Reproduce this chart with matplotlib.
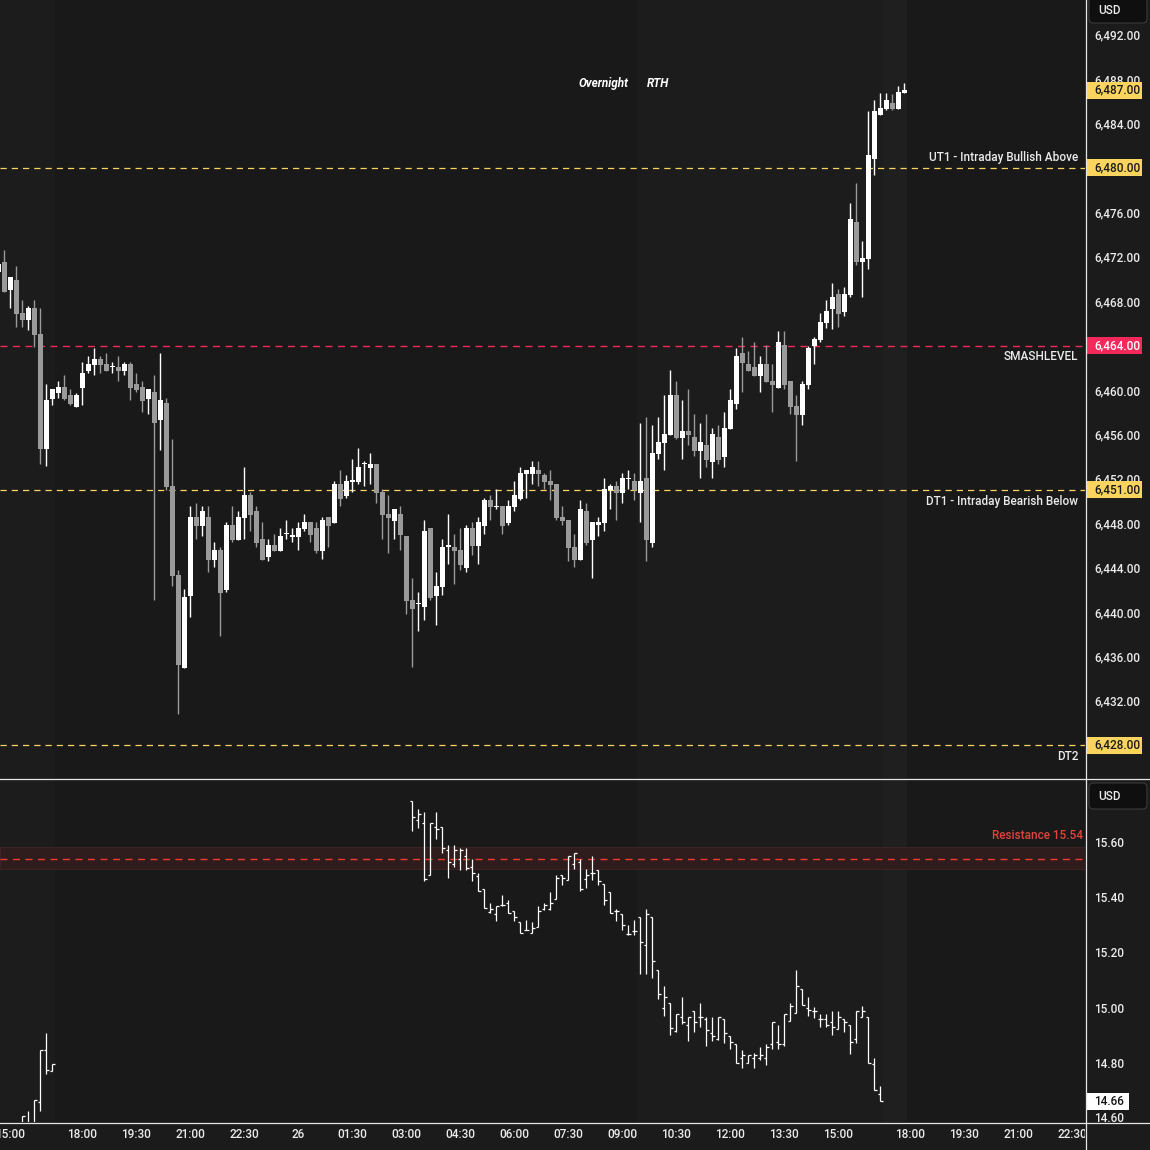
import numpy as np
import matplotlib
matplotlib.use('Agg')
import matplotlib.pyplot as plt
import matplotlib.transforms as mtransforms
from matplotlib.patches import Rectangle, FancyBboxPatch
from matplotlib.lines import Line2D
from matplotlib.ticker import FixedLocator, FuncFormatter

plt.rcParams['font.family'] = ['Roboto', 'Liberation Sans', 'DejaVu Sans']
plt.rcParams['font.weight'] = 'medium'

# 10-minute bars, bar index 0 = 18:00 (Globex open)
es_first_bar = -14
es_open = [6470.6, 6471.55, 6469.0, 6469.87, 6466.89, 6466.28, 6467.34, 6465.08, 6454.70, 6459.22,
           6459.76, 6460.30, 6459.58, 6458.49, 6460.21, 6461.74, 6462.29, 6462.83, 6462.38, 6462.05,
           6462.10, 6461.74, 6462.38, 6460.57, 6460.30, 6459.22, 6459.85, 6457.26, 6458.86, 6451.36,
           6443.33, 6434.94, 6441.44, 6448.57, 6447.75, 6448.57, 6444.69, 6445.59, 6441.98, 6447.84,
           6446.49, 6448.48, 6450.55, 6449.11, 6446.58, 6444.96, 6446.04, 6445.50, 6447.00, 6446.80,
           6446.76, 6447.48, 6448.12, 6447.57, 6445.50, 6448.57, 6448.03, 6451.55, 6450.46, 6451.75,
           6451.73, 6453.30, 6452.99, 6453.35, 6450.82, 6448.84, 6448.23, 6448.84, 6446.85, 6441.08,
           6440.75, 6440.47, 6447.57, 6441.46, 6442.28, 6445.85, 6445.86, 6445.59, 6443.99, 6447.57,
           6445.98, 6447.78, 6450.10, 6449.45, 6449.56, 6448.05, 6449.50, 6450.22, 6452.47, 6452.47,
           6452.81, 6452.36, 6451.82, 6451.55, 6448.57, 6448.30, 6445.86, 6444.71, 6449.11, 6446.52,
           6447.80, 6448.03, 6451.00, 6451.36, 6450.73, 6451.95, 6451.82, 6450.73, 6452.09, 6446.22,
           6454.25, 6455.25, 6455.97, 6459.58, 6455.70, 6456.33, 6455.79, 6454.52, 6455.07, 6453.53,
           6455.79, 6453.98, 6456.51, 6458.77, 6463.37, 6462.38, 6462.10, 6461.29, 6462.38, 6460.84,
           6460.21, 6464.09, 6460.84, 6458.58, 6457.77, 6460.48, 6464.00, 6464.54, 6465.99, 6467.25,
           6468.60, 6466.98, 6468.51, 6475.10, 6471.49, 6471.76, 6480.79, 6484.76, 6485.30, 6485.84,
           6485.30, 6486.75]
es_high = [6471.3, 6472.6, 6470.16, 6471.13, 6468.06, 6467.6, 6468.06, 6467.34, 6460.57, 6460.12,
           6460.84, 6461.38, 6460.12, 6459.76, 6462.56, 6463.10, 6463.82, 6463.10, 6463.37, 6462.56,
           6463.10, 6462.56, 6462.56, 6461.56, 6460.84, 6460.12, 6461.38, 6463.37, 6459.31, 6455.61,
           6443.78, 6442.07, 6449.56, 6449.83, 6449.56, 6449.56, 6446.31, 6445.86, 6448.12, 6449.56,
           6449.11, 6453.08, 6450.82, 6449.56, 6448.12, 6446.58, 6447.03, 6447.57, 6448.30, 6447.57,
           6448.12, 6448.84, 6448.12, 6448.12, 6448.57, 6448.57, 6451.82, 6452.81, 6452.36, 6453.80,
           6454.79, 6453.62, 6454.34, 6453.35, 6451.09, 6450.55, 6449.29, 6449.56, 6446.85, 6443.06,
           6441.80, 6448.30, 6447.57, 6443.60, 6446.58, 6448.84, 6447.03, 6447.57, 6447.84, 6448.12,
           6448.57, 6450.28, 6450.55, 6451.09, 6449.56, 6450.10, 6451.82, 6453.08, 6452.81, 6453.62,
           6453.62, 6452.54, 6452.81, 6451.55, 6449.56, 6448.30, 6447.03, 6450.10, 6449.83, 6448.12,
           6448.57, 6452.09, 6451.55, 6451.82, 6452.54, 6452.81, 6452.54, 6457.05, 6457.59, 6456.87,
           6457.59, 6459.58, 6461.83, 6460.84, 6459.13, 6460.12, 6457.86, 6457.05, 6457.86, 6456.60,
           6456.87, 6458.04, 6460.12, 6463.82, 6464.81, 6463.55, 6464.36, 6463.10, 6464.09, 6462.38,
           6465.35, 6465.35, 6460.84, 6459.58, 6460.84, 6464.00, 6464.81, 6466.89, 6468.06, 6469.60,
           6469.05, 6469.23, 6476.82, 6478.62, 6473.39, 6485.12, 6486.11, 6486.74, 6486.74, 6486.65,
           6487.38, 6487.65]
es_low = [6470.6, 6468.8, 6467.34, 6465.65, 6465.65, 6465.38, 6463.85, 6453.35, 6453.11, 6458.61,
          6459.31, 6459.13, 6458.61, 6458.49, 6458.61, 6461.56, 6461.38, 6461.56, 6461.74, 6461.56,
          6460.84, 6461.38, 6459.13, 6459.85, 6458.04, 6457.86, 6441.08, 6454.61, 6451.00, 6442.34,
          6430.79, 6434.94, 6439.54, 6446.58, 6446.85, 6443.60, 6444.05, 6437.83, 6441.80, 6446.31,
          6446.49, 6446.58, 6447.30, 6445.86, 6444.69, 6444.60, 6445.50, 6445.50, 6446.58, 6446.31,
          6445.59, 6447.30, 6446.31, 6445.32, 6444.78, 6445.86, 6448.03, 6449.56, 6450.28, 6450.82,
          6451.55, 6451.36, 6451.55, 6449.83, 6446.60, 6445.35, 6446.60, 6445.62, 6439.84, 6435.06,
          6438.30, 6439.30, 6441.10, 6438.85, 6441.55, 6444.35, 6442.55, 6443.81, 6443.63, 6445.10,
          6444.35, 6447.06, 6448.33, 6449.30, 6447.06, 6447.87, 6449.14, 6450.13, 6450.31, 6451.57,
          6451.39, 6451.12, 6450.13, 6448.32, 6447.87, 6444.62, 6444.08, 6444.71, 6446.07, 6443.09,
          6446.82, 6447.30, 6449.29, 6448.30, 6449.83, 6451.09, 6450.10, 6448.12, 6444.60, 6445.86,
          6453.80, 6452.81, 6455.97, 6455.61, 6453.80, 6455.07, 6454.07, 6452.09, 6453.08, 6452.09,
          6453.35, 6453.08, 6456.51, 6458.31, 6459.85, 6461.74, 6461.29, 6459.85, 6460.75, 6458.04,
          6460.21, 6460.12, 6457.86, 6453.62, 6456.87, 6460.12, 6462.38, 6464.36, 6465.62, 6465.53,
          6465.71, 6466.62, 6468.33, 6471.22, 6468.33, 6470.86, 6479.34, 6484.76, 6485.20, 6485.20,
          6485.30, 6486.75]
es_close = [6471.3, 6468.8, 6470.16, 6466.8, 6466.28, 6467.34, 6464.99, 6454.70, 6459.13, 6460.12,
            6460.30, 6459.22, 6458.77, 6459.58, 6461.56, 6462.38, 6462.83, 6462.29, 6461.74, 6462.15,
            6461.74, 6462.38, 6460.21, 6460.03, 6459.04, 6460.12, 6456.99, 6459.13, 6451.30, 6443.24,
            6435.21, 6441.35, 6448.57, 6447.75, 6449.11, 6444.69, 6445.59, 6441.71, 6447.84, 6446.49,
            6448.57, 6450.55, 6448.75, 6446.22, 6444.69, 6446.04, 6445.50, 6446.85, 6447.10, 6446.90,
            6447.57, 6448.12, 6446.94, 6445.50, 6448.30, 6447.75, 6451.55, 6450.19, 6451.82, 6451.85,
            6453.08, 6453.40, 6453.35, 6450.73, 6448.75, 6448.50, 6449.29, 6446.97, 6441.01, 6440.29,
            6440.85, 6447.30, 6441.29, 6442.34, 6445.86, 6446.04, 6445.50, 6444.26, 6447.57, 6445.98,
            6448.12, 6450.10, 6449.50, 6449.55, 6447.78, 6449.56, 6450.55, 6452.54, 6452.81, 6453.08,
            6452.47, 6451.75, 6451.48, 6448.50, 6448.23, 6445.80, 6444.71, 6449.29, 6446.25, 6448.12,
            6448.12, 6451.09, 6451.36, 6450.73, 6452.09, 6452.05, 6451.00, 6451.82, 6446.49, 6454.34,
            6455.34, 6456.06, 6459.58, 6455.70, 6456.33, 6455.97, 6454.52, 6455.34, 6453.71, 6456.06,
            6453.71, 6456.60, 6459.13, 6463.10, 6462.47, 6461.74, 6461.29, 6462.38, 6460.75, 6460.48,
            6464.36, 6460.48, 6458.49, 6457.77, 6460.57, 6463.82, 6464.63, 6466.08, 6467.07, 6468.33,
            6466.80, 6468.60, 6475.37, 6471.49, 6471.85, 6481.15, 6485.12, 6485.39, 6486.11, 6485.30,
            6486.83, 6487.00]

# VIX bars (10-minute), two trading stretches
vix_a_first_bar = -10
vix_a_open = [14.55, 14.56, 14.57, 14.660, 14.847, 14.771]
vix_a_high = [14.608, 14.626, 14.666, 14.847, 14.909, 14.796]
vix_a_low = [14.50, 14.55, 14.56, 14.627, 14.758, 14.771]
vix_a_close = [14.608, 14.57, 14.666, 14.847, 14.775, 14.796]

vix_b_first_bar = 55
vix_b_open = [15.747, 15.678, 15.668, 15.482, 15.655, 15.655, 15.570, 15.519, 15.537, 15.548,
              15.511, 15.477, 15.429, 15.348, 15.338, 15.370, 15.378, 15.349, 15.309, 15.280,
              15.269, 15.291, 15.356, 15.356, 15.392, 15.479, 15.461, 15.519, 15.526, 15.465,
              15.487, 15.497, 15.447, 15.418, 15.349, 15.338, 15.266, 15.277, 15.327, 15.226,
              15.327, 15.135, 14.998, 15.016, 14.915, 14.965, 14.936, 14.987, 14.965, 14.958,
              14.907, 14.886, 14.958, 14.897, 14.868, 14.817, 14.799, 14.817, 14.817, 14.817,
              14.868, 14.875, 14.868, 14.951, 14.980, 15.067, 14.998, 14.987, 14.958, 14.958,
              14.947, 14.922, 14.958, 14.936, 14.886, 14.965, 14.965, 14.795, 14.687]
vix_b_high = [15.747, 15.719, 15.707, 15.668, 15.707, 15.655, 15.588, 15.588, 15.577, 15.577,
              15.540, 15.487, 15.429, 15.378, 15.367, 15.407, 15.389, 15.349, 15.309, 15.316,
              15.309, 15.367, 15.378, 15.418, 15.479, 15.479, 15.548, 15.559, 15.537, 15.501,
              15.548, 15.497, 15.447, 15.418, 15.356, 15.338, 15.298, 15.316, 15.327, 15.356,
              15.327, 15.135, 15.078, 15.016, 14.976, 15.038, 14.965, 14.987, 15.016, 14.965,
              14.965, 14.965, 14.958, 14.897, 14.868, 14.846, 14.828, 14.835, 14.857, 14.868,
              14.947, 14.936, 14.976, 15.016, 15.135, 15.067, 15.038, 15.001, 14.976, 14.976,
              14.987, 14.987, 14.958, 14.936, 14.987, 15.005, 14.965, 14.817, 14.716]
vix_b_low = [15.641, 15.652, 15.460, 15.482, 15.611, 15.561, 15.471, 15.511, 15.500, 15.500,
             15.460, 15.421, 15.360, 15.342, 15.313, 15.369, 15.342, 15.313, 15.269, 15.280,
             15.269, 15.291, 15.353, 15.353, 15.392, 15.443, 15.461, 15.501, 15.421, 15.432,
             15.461, 15.443, 15.371, 15.342, 15.313, 15.280, 15.262, 15.262, 15.121, 15.121,
             15.106, 15.030, 14.969, 14.900, 14.911, 14.940, 14.878, 14.911, 14.929, 14.860,
             14.878, 14.882, 14.871, 14.849, 14.799, 14.781, 14.799, 14.781, 14.810, 14.792,
             14.849, 14.849, 14.860, 14.951, 14.980, 15.009, 14.969, 14.962, 14.929, 14.929,
             14.900, 14.922, 14.911, 14.831, 14.871, 14.965, 14.799, 14.701, 14.661]
vix_b_close = [15.689, 15.701, 15.467, 15.668, 15.648, 15.577, 15.526, 15.570, 15.570, 15.505,
               15.487, 15.421, 15.360, 15.356, 15.367, 15.370, 15.342, 15.327, 15.269, 15.280,
               15.287, 15.349, 15.371, 15.378, 15.471, 15.471, 15.548, 15.559, 15.429, 15.479,
               15.487, 15.458, 15.389, 15.342, 15.349, 15.298, 15.266, 15.277, 15.237, 15.338,
               15.168, 15.049, 15.038, 14.925, 14.976, 14.947, 14.965, 14.947, 14.965, 14.918,
               14.897, 14.965, 14.907, 14.875, 14.799, 14.828, 14.828, 14.828, 14.828, 14.857,
               14.947, 14.868, 14.976, 15.005, 15.078, 15.009, 14.992, 14.987, 14.958, 14.936,
               14.929, 14.965, 14.947, 14.875, 14.987, 14.987, 14.799, 14.701, 14.661]

level_prices = [6480.0, 6464.0, 6451.0, 6428.0]
level_names = ['UT1 - Intraday Bullish Above', 'SMASHLEVEL', 'DT1 - Intraday Bearish Below', 'DT2']
level_kinds = ['yellow', 'red', 'yellow', 'yellow']
last_es = 6487.00
resistance = 15.54
resistance_zone = (15.502, 15.583)
last_vix = 14.66

es_ticks = [6432, 6436, 6440, 6444, 6448, 6452, 6456, 6460, 6468, 6472, 6476, 6484, 6488, 6492]
vix_ticks = [15.60, 15.40, 15.20, 15.00, 14.80]

time_ticks = [-12, 0, 9, 18, 27, 36, 45, 54, 63, 72, 81, 90, 99, 108, 117, 126, 138, 147, 156, 165]
time_labels = ['15:00', '18:00', '19:30', '21:00', '22:30', '26', '01:30', '03:00', '04:30', '06:00',
               '07:30', '09:00', '10:30', '12:00', '13:30', '15:00', '18:00', '19:30', '21:00', '22:30']

# session edges in bar units (prev RTH end 16:15, RTH 09:30-16:15, post 16:15-17:00)
prev_rth_end = -4.5
rth_span = (92.5, 133.5)
post_span = (133.5, 137.5)

BG = '#191919'
RTH_BG = '#1c1c1c'
POST_BG = '#1f1f1f'
AXIS_BG = '#1b1b1b'
TXT = '#ebebeb'
YEL = '#fad45e'
RED = '#f2295a'
UP = '#ffffff'
DOWN = '#9a9a9a'
FS = 8.5

W = H = 1150
fig = plt.figure(figsize=(11.5, 11.5), dpi=100, facecolor=AXIS_BG)
ax = fig.add_axes([0, (H - 778) / H, 1085 / W, 778 / H])
axv = fig.add_axes([0, 28 / H, 1085 / W, (1122 - 779) / H], sharex=ax)

xmin, xmax = (0 - 82.3) / 6, (1085 - 82.3) / 6
for a in (ax, axv):
    a.set_facecolor(BG)
    for s in a.spines.values():
        s.set_visible(False)
    a.axvspan(xmin, prev_rth_end, color=RTH_BG, lw=0, zorder=0)
    a.axvspan(*rth_span, color=RTH_BG, lw=0, zorder=0)
    a.axvspan(*post_span, color=POST_BG, lw=0, zorder=0)
    a.yaxis.tick_right()
    a.tick_params(axis='y', length=0, pad=6.5, labelsize=FS, labelcolor=TXT)
    a.tick_params(axis='x', length=0, labelbottom=False)
ax.set_xlim(xmin, xmax)
ax.set_ylim(6425.05, 6495.12)
axv.set_ylim(14.586, 15.828)

# ---- candles ----
x = np.arange(es_first_bar, es_first_bar + len(es_open))
o, h, l, c = (np.asarray(v) for v in (es_open, es_high, es_low, es_close))
col = np.where(c >= o, UP, DOWN)
ax.vlines(x, l, h, colors=col, lw=1.0, zorder=3)
ax.bar(x, np.maximum(np.abs(c - o), 0.1), 0.78, bottom=np.minimum(o, c), color=col, lw=0, zorder=4)


# ---- VIX OHLC bars ----
def ohlc(first, op, hi, lo, cl):
    xs = np.arange(first, first + len(op))
    axv.vlines(xs, lo, hi, colors='white', lw=0.9, zorder=3)
    axv.hlines(op, xs - 0.38, xs, colors='white', lw=0.9, zorder=3)
    axv.hlines(cl, xs, xs + 0.38, colors='white', lw=0.9, zorder=3)


ohlc(vix_a_first_bar, vix_a_open, vix_a_high, vix_a_low, vix_a_close)
ohlc(vix_b_first_bar, vix_b_open, vix_b_high, vix_b_low, vix_b_close)

# ---- levels ----
bt = mtransforms.blended_transform_factory(ax.transAxes, ax.transData)
ppu = 778 / (6495.12 - 6425.05)
for price, name, kind in zip(level_prices, level_names, level_kinds):
    lc = YEL if kind == 'yellow' else RED
    ax.axhline(price, color=lc, lw=0.9 if kind == 'yellow' else 1.0,
               linestyle=(0, (5, 4)), zorder=2)
    dy = 7.2 if price == 6480.0 else -8.2
    ax.annotate(name, xy=(1078 / 1085, price), xycoords=bt, xytext=(0, dy),
                textcoords='offset points', ha='right', va='center', fontsize=FS, color=TXT)


def tag(a, trans, price, text, face, tc, h_px, ppu_, x1=1142):
    hh = h_px / 2 / ppu_
    a.add_patch(Rectangle((1086 / 1085, price - hh), (x1 - 1086) / 1085, 2 * hh, transform=trans,
                          facecolor=face, edgecolor='none', clip_on=False, zorder=10))
    a.text(1094 / 1085, price, text, transform=trans, ha='left', va='center', fontsize=FS,
           color=tc, clip_on=False, zorder=11)


fmt = lambda v: f'{v:,.2f}'
ax.yaxis.set_major_locator(FixedLocator(es_ticks))
ax.yaxis.set_major_formatter(FuncFormatter(lambda v, p: fmt(v)))
tag(ax, bt, last_es, fmt(last_es), YEL, '#1a1a1a', 17, ppu)
for price, kind in zip(level_prices, level_kinds):
    if kind == 'yellow':
        tag(ax, bt, price, fmt(price), YEL, '#1a1a1a', 17, ppu)
    else:
        tag(ax, bt, price, fmt(price), RED, '#ffffff', 17, ppu)

# session labels
sy = 6495.12 - 84 / ppu
ax.annotate('Overnight', xy=(rth_span[0], sy), xytext=(-6.5, 0), textcoords='offset points',
            ha='right', va='center', fontsize=FS, style='italic', weight='bold', color='white')
ax.annotate('RTH', xy=(rth_span[0], sy), xytext=(7, 0), textcoords='offset points',
            ha='left', va='center', fontsize=FS, style='italic', weight='bold', color='white')

# ---- VIX panel decorations ----
vppu = 343 / (15.828 - 14.586)
bv = mtransforms.blended_transform_factory(axv.transAxes, axv.transData)
axv.axhspan(*resistance_zone, facecolor='#2f1d1d', edgecolor='#3c2424', lw=0.8, zorder=1)
axv.axhline(resistance, color='#f23b30', lw=1.0, linestyle=(0, (5, 4)), zorder=2)
axv.text(1083 / 1085, 15.60 + 6 / vppu, f'Resistance {resistance:.2f}', transform=bv,
         ha='right', va='center', fontsize=FS, color='#e2443c', zorder=5)
axv.yaxis.set_major_locator(FixedLocator(vix_ticks))
axv.yaxis.set_major_formatter(FuncFormatter(lambda v, p: f'{v:.2f}'))
t = axv.text(1094 / 1085, 14.60, '14.60', transform=bv, ha='left', va='center', fontsize=FS,
             color=TXT, clip_on=True)
t.set_clip_box(mtransforms.TransformedBbox(mtransforms.Bbox([[1.0, 0.0], [1.06, 1.0]]), axv.transAxes))
tag(axv, bv, last_vix, f'{last_vix:.2f}', '#ffffff', '#131313', 17, vppu, x1=1129)

# ---- time axis labels ----
tx = mtransforms.blended_transform_factory(axv.transData, fig.transFigure)
for tb, tl in zip(time_ticks, time_labels):
    tt = axv.text(tb, (H - 1135) / H, tl, transform=tx, ha='center', va='center', fontsize=FS,
                  color=TXT, clip_on=True)
    tt.set_clip_box(mtransforms.TransformedBbox(mtransforms.Bbox([[0, 0], [1085 / W, 1]]),
                                                fig.transFigure))

# ---- frame lines ----
lc = '#e6e6e6'
fig.add_artist(Line2D([1085.5 / W, 1085.5 / W], [0, 1], transform=fig.transFigure, color=lc, lw=0.9))
fig.add_artist(Line2D([0, 1], [(H - 778.5) / H] * 2, transform=fig.transFigure, color=lc, lw=0.9))
fig.add_artist(Line2D([0, 1], [(H - 1122.5) / H] * 2, transform=fig.transFigure, color=lc, lw=0.9))

# currency boxes
for top_px in (-3, 783):
    fig.add_artist(FancyBboxPatch((1089 / W, (H - top_px - 26) / H), 58 / W, 26 / H,
                                  boxstyle='round,pad=0,rounding_size=0.004', transform=fig.transFigure,
                                  facecolor='#0f0f0f', edgecolor='#3a3a3a', lw=0.8))
    fig.text(1098 / W, (H - top_px - 13) / H, 'USD', ha='left', va='center', fontsize=FS, color=TXT)

fig.savefig('out.png', dpi=100, facecolor=fig.get_facecolor())
